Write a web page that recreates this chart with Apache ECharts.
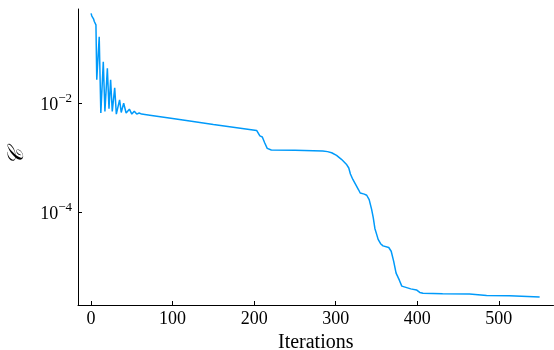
<!DOCTYPE html>
<html>
<head>
<meta charset="utf-8">
<script src="https://cdn.jsdelivr.net/npm/echarts@6/dist/echarts.min.js"></script>
<style>
html,body{margin:0;padding:0;background:#fff;}
#chart{width:554px;height:350px;}
</style>
</head>
<body>
<div id="chart"></div>
<script>
const iterations = [0,1,2,3,4,5,6,7,10,12,15,17,20,22,24,26,29,31,35,37,40,43,47,50,53,56,59,62,72,100,121,150,203,205,207,210,213,216,221,250,284,290,295,301,307,313,316,318,321,324,328,330,335,338,341,344,346,348,350,352,355,358,365,368,371,374,378,381,383,392,399,403,407,431,464,485,513,550];
const costValues = [0.447,0.398,0.380,0.355,0.316,0.295,0.275,0.0269,0.166,0.00661,0.0575,0.00708,0.0437,0.00794,0.0269,0.00708,0.0191,0.00631,0.0115,0.00676,0.0100,0.00661,0.00776,0.00631,0.00708,0.00631,0.00661,0.00631,0.00603,0.00525,0.00473,0.00407,0.00316,0.00295,0.00251,0.00240,0.00186,0.00148,0.00138,0.00137,0.00133,0.00129,0.00123,0.00110,0.000933,0.000759,0.000646,0.000501,0.000398,0.000331,0.000257,0.000224,0.000214,0.000204,0.000170,0.000112,0.0000794,0.0000501,0.0000398,0.0000316,0.0000263,0.0000240,0.0000224,0.0000191,0.0000126,0.00000759,0.00000562,0.00000437,0.00000407,0.00000389,0.00000372,0.00000335,0.00000324,0.00000316,0.00000313,0.00000295,0.00000292,0.00000275];
const xTicks = [0, 100, 200, 300, 400, 500];
const yTicks = [1e-4, 1e-2];
const xName = 'Iterations';
const yName = '𝒞';

const seriesData = iterations.map((x, i) => [x, costValues[i]]);
const FONT = '"Liberation Serif", "DejaVu Serif", serif';

const chart = echarts.init(document.getElementById('chart'), null, {renderer: 'canvas'});
chart.setOption({
  animation: false,
  backgroundColor: '#ffffff',
  grid: {left: 78, right: 0.5, top: 9, bottom: 45, containLabel: false, outerBoundsMode: 'none'},
  xAxis: {
    type: 'value',
    min: -16, max: 567,
    splitLine: {show: false},
    axisLine: {show: true, onZero: false, lineStyle: {color: '#000', width: 1}},
    axisTick: {show: true, inside: true, length: 4, customValues: xTicks, lineStyle: {color: '#000', width: 1}},
    axisLabel: {
      margin: 5, color: '#000', fontFamily: FONT, fontSize: 18,
      customValues: xTicks,
      formatter: v => String(v)
    },
    name: xName, nameLocation: 'middle', nameGap: 24,
    nameTextStyle: {color: '#000', fontFamily: FONT, fontSize: 20}
  },
  yAxis: {
    type: 'log', logBase: 10,
    min: Math.pow(10, -5.706), max: Math.pow(10, -0.27),
    splitLine: {show: false},
    axisLine: {show: true, onZero: false, lineStyle: {color: '#000', width: 1}},
    axisTick: {show: true, inside: true, length: 4, customValues: yTicks, lineStyle: {color: '#000', width: 1}},
    axisLabel: {
      margin: 6, color: '#000', fontFamily: FONT, fontSize: 18,
      customValues: yTicks,
      formatter: function (v) {
        const r = Math.round(Math.log10(v));
        return '{b|10}{s|' + (r < 0 ? '\u2212' : '') + Math.abs(r) + '}';
      },
      rich: {
        b: {fontFamily: FONT, fontSize: 18, color: '#000', verticalAlign: 'bottom', lineHeight: 22},
        s: {fontFamily: FONT, fontSize: 13, color: '#000', verticalAlign: 'top', lineHeight: 14}
      }
    },
    name: yName, nameLocation: 'middle', nameGap: 50, nameRotate: 90,
    nameTextStyle: {color: '#000', fontFamily: '"DejaVu Serif", serif', fontSize: 22, fontStyle: 'italic'}
  },
  series: [{
    type: 'line',
    data: seriesData,
    showSymbol: false,
    symbol: 'none',
    lineStyle: {color: '#009AFA', width: 1.5},
    itemStyle: {color: '#009AFA'}
  }]
});
</script>
</body>
</html>
